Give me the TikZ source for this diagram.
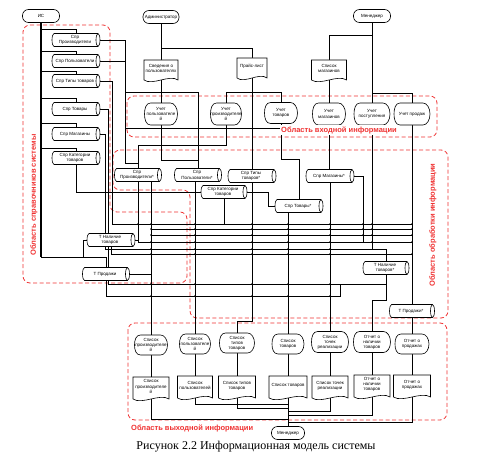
\documentclass[tikz,border=0pt]{standalone}
\usepackage{fontspec}
\setmainfont{Liberation Sans}
\newfontfamily\capfont{Liberation Serif}
\usetikzlibrary{calc}
\pgfdeclarelayer{bg}
\pgfsetlayers{bg,main}
\definecolor{regred}{RGB}{240,50,50}
\tikzset{
 txt/.style={inner sep=0pt, align=center, font=\fontsize{4.5}{5.1}\selectfont},
 holder/.style={inner sep=0pt, outer sep=0pt},
 shp/.style={draw=black, line width=0.6pt, fill=white},
 ln/.style={draw=black, line width=0.55pt},
 thk/.style={draw=black, line width=1.1pt},
 term/.style={draw=black, line width=0.6pt, fill=white, rounded corners=6pt, inner sep=0pt, minimum height=13pt, font=\fontsize{4.5}{5.1}\selectfont},
 region/.style={draw=regred, line width=0.8pt, dash pattern=on 4pt off 2.5pt, rounded corners=7pt},
 reglabel/.style={text=regred, font=\fontsize{7.5}{8}\selectfont\bfseries, inner sep=1pt},
}
\newcommand\cyln[4]{%
 \node[holder, minimum width=#3pt, minimum height=13pt] (#1) at (#2) {};
 \path[shp] ([xshift=2pt]#1.north west) -- ([xshift=-2pt]#1.north east)
   arc[start angle=90, end angle=-90, x radius=2pt, y radius=6.5pt]
   -- ([xshift=2pt]#1.south west)
   arc[start angle=270, end angle=90, x radius=2pt, y radius=6.5pt] -- cycle;
 \draw[line width=0.6pt] ([xshift=-2pt]#1.north east) arc[start angle=90, end angle=270, x radius=2pt, y radius=6.5pt];
 \node[txt] at ([xshift=-1pt]#1.center) {#4};
}
\newcommand\dispn[5]{%
 \node[holder, minimum width=#3pt, minimum height=#4pt] (#1) at (#2) {};
 \path[shp] ([xshift=6pt]#1.north west) -- ([xshift=-7pt]#1.north east)
   arc[start angle=90, end angle=-90, x radius=7pt, y radius=#4pt/2]
   -- ([xshift=6pt]#1.south west)
   .. controls ([xshift=1.5pt]#1.south west) and ([yshift=-#4pt/4]#1.west) .. (#1.west)
   .. controls ([yshift=#4pt/4]#1.west) and ([xshift=1.5pt]#1.north west) .. ([xshift=6pt]#1.north west) -- cycle;
 \node[txt] at (#1.center) {#5};
}
\newcommand\docn[5]{%
 \node[holder, minimum width=#3pt, minimum height=#4pt] (#1) at (#2) {};
 \path[shp] (#1.south west) -- (#1.north west) -- (#1.north east) -- (#1.south east)
   .. controls ([xshift=-#3pt/4, yshift=6pt]#1.south east) and ([xshift=#3pt/4, yshift=-6pt]#1.south west) .. (#1.south west) -- cycle;
 \node[txt] at ([yshift=1.5pt]#1.center) {#5};
}
\begin{document}
\begin{tikzpicture}[x=1pt,y=1pt]
\useasboundingbox (0,0) rectangle (482,-460);

% terminals
\node[term, minimum width=37pt] (is) at (41,-16) {ИС};
\node[term, minimum width=36pt] (adm) at (161,-17) {Администратор};
\node[term, minimum width=37pt] (mgr) at (372,-16) {Менеджер};
\node[term, minimum width=33pt] (mgr2) at (288,-433) {Менеджер};

% left directories
\cyln{spr1}{76,-40}{48}{Спр\\Производители}
\cyln{spr2}{76,-61}{48}{Спр Пользователи}
\cyln{spr3}{76,-81}{48}{Спр Типы товаров}
\cyln{spr4}{76,-109}{48}{Спр Товары}
\cyln{spr5}{76,-134}{48}{Спр Магазины}
\cyln{spr6}{76,-158}{48}{Спр Категории\\товаров}

% input documents
\docn{dsv}{161,-70}{34}{20}{Сведения о\\пользователях}
\docn{dpr}{252,-68}{30}{20}{Прайс-лист}
\docn{dmg}{329,-70}{35}{20}{Список\\магазинов}

% input displays
\dispn{uPol}{161,-114}{33}{22}{Учет\\пользователе\\й}
\dispn{uPro}{226,-114}{31}{22}{Учет\\производителе\\й}
\dispn{uTov}{281,-113}{33}{21}{Учет\\товаров}
\dispn{uMag}{329,-114}{33}{22}{Учет\\магазинов}
\dispn{uPst}{372,-114}{36}{22}{Учет\\поступления}
\dispn{uPrd}{412,-114}{36}{22}{Учет продаж}

% processing
\cyln{pPro}{138,-175}{47}{Спр\\Производители*}
\cyln{pPol}{198,-175}{47}{Спр\\Пользователи*}
\cyln{pTip}{252,-176}{48}{Спр Типы\\товаров*}
\cyln{pCat}{224,-192}{46}{Спр Категории\\товаров}
\cyln{pTov}{299,-206}{48}{Спр Товары*}
\cyln{pMag}{330,-176}{48}{Спр Магазины*}
\cyln{tNal}{111,-240}{48}{Т Наличие\\товаров}
\cyln{tPrd}{106,-274}{47}{Т Продажи}
\cyln{tNal2}{386,-268}{46}{Т Наличие\\товаров*}
\cyln{tPrd2}{412,-311}{45}{Т Продажи*}

% output displays
\dispn{oPro}{151,-345}{33}{20}{Список\\производителе\\й}
\dispn{oPol}{195,-344}{31}{20}{Список\\пользователе\\й}
\dispn{oTip}{237,-343}{35}{20}{Список\\типов\\товаров}
\dispn{oTov}{288,-344}{32}{20}{Список\\товаров}
\dispn{oTch}{330,-342}{37}{21}{Список\\точек\\реализации}
\dispn{oNal}{372,-342}{37}{21}{Отчет о\\наличии\\товаров}
\dispn{oPrd}{412,-344}{34}{20}{Отчет о\\продажах}

% output documents
\docn{dPro}{151,-388}{36}{22}{Список\\производителе\\й}
\docn{dPol}{195,-387}{35}{22}{Список\\пользователей}
\docn{dTip}{237,-387}{37}{22}{Список типов\\товаров}
\docn{dTov}{288,-387}{38}{22}{Список товаров}
\docn{dTch}{330,-387}{36}{22}{Список точек\\реализации}
\docn{dNal}{372,-386}{36}{22}{Отчет о\\наличии\\товаров}
\docn{dPrd}{412,-386}{37}{22}{Отчет о\\продажах}

\begin{pgfonlayer}{bg}
\fill[white] (0,0) rectangle (482,-460);
% regions
\draw[region] (23,-25) -- (110,-25) -- (110,-212) -- (187,-212) -- (187,-283) -- (23,-283) -- cycle;
\draw[region] (113,-150) -- (448,-150) -- (448,-318) -- (190,-318) -- (190,-190) -- (113,-190) -- cycle;
\draw[region] (127,-96) rectangle (437,-137);
\draw[region] (128,-323) rectangle (447,-420);

% coordinates
\coordinate (trk) at (41,-257);
\coordinate (t83) at (83,-257);
\coordinate (c125) at (125,-92);
\coordinate (c125b) at (125,-163);
\coordinate (c198) at (198,-92);
\coordinate (a48) at (161,-48);
\coordinate (p92a) at (226,-92);
\coordinate (p92b) at (281,-92);
\coordinate (m35) at (372,-35);
\coordinate (m93) at (372,-93);
\coordinate (m128) at (329,-128);
\coordinate (u160) at (198,-160);
\coordinate (u145) at (138,-145);
\coordinate (u159) at (299,-159.5);
\coordinate (u249) at (386,-249);
\coordinate (m363) at (363,-242);
\coordinate (b1s) at (112,-224); \coordinate (b1e) at (412,-224);
\coordinate (b2s) at (151,-229); \coordinate (b2e) at (412,-229);
\coordinate (b3s) at (151,-235); \coordinate (b3e) at (412,-235);
\coordinate (b4e) at (412,-242);
\coordinate (b5s) at (105,-249); \coordinate (b5e) at (372,-249);
\coordinate (b6e) at (412,-254);
\coordinate (b7s) at (108,-284); \coordinate (b7e) at (386,-284);
\coordinate (b8e) at (340,-296); \coordinate (b8t) at (340,-284);
\coordinate (n300) at (386,-300);
\coordinate (t321) at (237,-321);
\coordinate (k268) at (268,-192);
\coordinate (d151) at ($(pPro.south)+(13,0)$);
\coordinate (d195) at ($(pPol.south)+(-3,0)$);
\coordinate (d288) at ($(pTov.south)+(-11,0)$);
\coordinate (v404) at (288,-404);
\coordinate (v408) at (288,-408);
\coordinate (v411) at (288,-411);
\coordinate (v415) at (288,-415);
\coordinate (v419) at (288,-419);
\coordinate (v422) at (288,-422);

% IS trunk and branches
\draw[thk] (is.south) -- (trk);
\draw[ln] (trk) -| (tPrd.north);
\foreach \n/\yy in {spr1/29, spr2/51, spr3/71, spr4/98, spr5/123, spr6/148}{
  \coordinate (br\n) at (41,-\yy);
  \draw[ln] (br\n) -| (\n.north);
}
% administrator
\draw[ln] (adm.south) -- (dsv.north);
\draw[ln] (a48) -| (dpr.north);
\draw[ln] (dsv.south) -- (uPol.north);
\draw[ln] (c125) -- (c198);
\draw[ln] (c198) -- (pPol.north);
\draw[ln] (spr1.east) -| (c125b) -| (pPro.north);
\draw[ln] (spr2.east) -- (spr2.east -| c125);
% price list
\draw[ln] (dpr.south) -- (pTip.north);
\draw[ln] (p92a) -- (p92b);
\draw[ln] (p92a) -- (uPro.north);
\draw[ln] (p92b) -- (uTov.north);
% manager
\draw[ln] (mgr.south) -- (uPst.north);
\draw[ln] (m35) -| (dmg.north);
\draw[ln] (m93) -| (uPrd.north);
\draw[ln] (dmg.south) -- (uMag.north);
\draw[ln] (uMag.south) -- (uMag.south |- pMag.north);
\draw[ln] (m128) -- (m128 -| c125);
% input to processing
\draw[ln] (uPol.south) |- (u160);
\draw[ln] (uPro.south) |- (u145) -- (pPro.north);
\draw[ln] (uTov.south) |- (u159) -- (pTov.north);
\draw[ln] (uPst.south) |- (u249) -- (tNal2.north);
\draw[ln] (uPrd.south) -- (tPrd2.north);
\draw[ln] (pMag.east) -| (m363);
% buses
\draw[ln] (spr3.east) -| (b1s) -- (b1e);
\draw[ln] (b2s) -- (b2e);
\draw[ln] (b3s) -- (b3e);
\draw[ln] (pPro.south) |- (b4e);
\draw[ln] (tNal.east) -- (tNal.east -| pPro.south);
\draw[ln] (spr5.east) -| (b5s) -- (b5e);
\draw[ln] (tNal.south) |- (b6e);
\draw[ln] (spr4.east) -| (b7s) -- (b7e);
\draw[ln] (tNal2.south) -- (n300) -| (oNal.north);
\draw[ln] (tPrd.south) |- (b8e) -- (b8t);
\draw[ln] (tNal.west) -| (t83);
\draw[ln] (tPrd.east) -- (tPrd.east -| d151);
\draw[ln] (spr6.south) |- (pCat.west);
\draw[ln] (pCat.east) -- (k268) |- (pTov.west);
\draw[ln] (pCat.south) -- (pCat.south |- b1s);
% drops
\draw[ln] (d151) -- (oPro.north);
\draw[ln] (d195) -- (oPol.north);
\draw[ln] (pTip.south) |- (t321) -- (oTip.north);
\draw[ln] (d288) -- (oTov.north);
\draw[ln] (pMag.south) -- (oTch.north);
\draw[ln] (tPrd2.south) -- (oPrd.north);
% outputs
\foreach \a/\b in {oPro/dPro, oPol/dPol, oTip/dTip, oTov/dTov, oTch/dTch, oNal/dNal, oPrd/dPrd}
  \draw[ln] (\a.south) -- (\b.north);
\draw[ln] (dTov.south) -- (mgr2.north);
\draw[ln] (dPol.south) |- (v404);
\draw[ln] (dTip.south) |- (v408);
\draw[ln] (dTch.south) |- (v411);
\draw[ln] (dNal.south) |- (v415);
\draw[ln] (dPro.south) |- (v419);
\draw[ln] (dPrd.south) |- (v422);
% junction dots
\foreach \x in {151,195,252,288,330}
  \foreach \y in {224,229,235,242,249,254,284,296}
    \fill (\x,-\y) circle (0.9pt);
\foreach \y in {224,229,235,242,254} \fill (412,-\y) circle (0.9pt);
\foreach \y in {224,229,235,242} \fill (372,-\y) circle (0.9pt);
\foreach \y in {224,229,235} \fill (363,-\y) circle (0.9pt);
\fill (138,-224) circle (0.9pt);
\end{pgfonlayer}

% region labels
\node[reglabel, fill=white] (lin) at (339,-130) {Область входной информации};
\node[reglabel, rotate=90] (lpr) at (433,-225) {Область обработки информации};
\node[reglabel, rotate=90] (lsp) at (34,-195) {Область справочников системы};
\node[reglabel, anchor=west] (lout) at (130,-428) {Область выходной информации};
\node[font=\capfont\fontsize{12}{14}\selectfont, inner sep=0pt] (cap) at (256,-447) {Рисунок 2.2 Информационная модель системы};
\end{tikzpicture}
\end{document}
